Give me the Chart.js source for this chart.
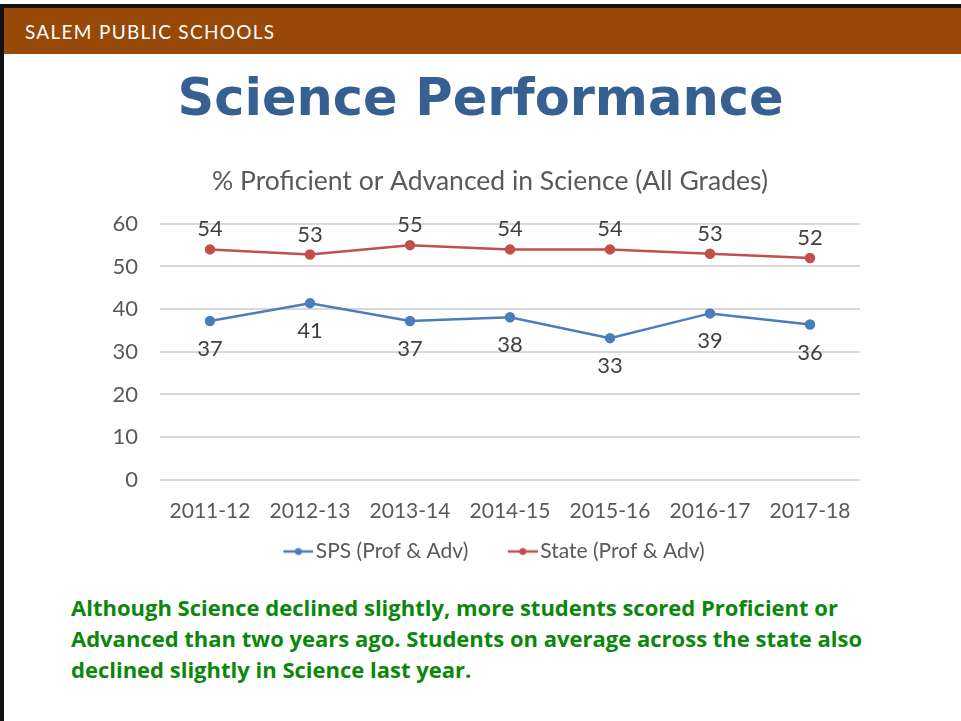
<!DOCTYPE html>
<html>
<head>
<meta charset="utf-8">
<script src="https://cdn.jsdelivr.net/npm/chart.js@4.4.0/dist/chart.umd.min.js"></script>
<style>
    body { margin: 0; background: #fff; width: 961px; height: 721px; overflow: hidden; position: relative; }
    .borde-izq { position: absolute; left: 0; top: 4px; width: 4px; height: 717px; background: #111; }
    .borde-sup { position: absolute; left: 0; top: 4px; width: 961px; height: 4px; background: #111; }
    .cabecera { position: absolute; left: 4px; top: 8px; width: 957px; height: 46px; background: #984807; }
    .cabecera span { position: absolute; left: 21px; top: 12px; color: #fff; font-family: Lato, sans-serif; font-size: 19px; letter-spacing: 1.3px; }
    h1 { position: absolute; left: 0; width: 961px; top: 68px; margin: 0; text-align: center; font-family: "DejaVu Sans", sans-serif; font-weight: bold; font-size: 51px; color: #376092; }
    #contenedor { position: absolute; left: 100px; top: 158px; width: 780px; height: 414px; }
    .nota { position: absolute; left: 71px; top: 592px; width: 880px; margin: 0; font-family: "Open Sans", sans-serif; font-weight: bold; font-size: 22px; line-height: 31px; color: #0b870b; }
</style>
</head>
<body>
<div class="borde-izq"></div>
<div class="borde-sup"></div>
<div class="cabecera"><span>SALEM PUBLIC SCHOOLS</span></div>
<h1>Science Performance</h1>
<div id="contenedor"><canvas id="grafico"></canvas></div>
<p class="nota">Although Science declined slightly, more students scored Proficient or<br>Advanced than two years ago. Students on average across the state also<br>declined slightly in Science last year.</p>

<script>
const anios = ['2011-12', '2012-13', '2013-14', '2014-15', '2015-16', '2016-17', '2017-18'];
const valoresSPS = [37.2, 41.4, 37.2, 38.1, 33.2, 39.0, 36.4];
const valoresEstado = [54, 52.8, 55, 54, 54, 53, 52];
const etiquetasSPS = [37, 41, 37, 38, 33, 39, 36];
const etiquetasEstado = [54, 53, 55, 54, 54, 53, 52];
const marcasY = [0, 10, 20, 30, 40, 50, 60];

const azul = '#4a7ebb';
const rojo = '#c0504d';
const gris = '#595959';

// icono de leyenda estilo Excel: linea con punto (desplazado a la derecha para pegarlo al texto)
function iconoLeyenda(color) {
    const c = document.createElement('canvas');
    c.width = 46;
    c.height = 10;
    const ctx = c.getContext('2d');
    ctx.strokeStyle = color;
    ctx.lineWidth = 2.5;
    ctx.beginPath();
    ctx.moveTo(16, 5);
    ctx.lineTo(46, 5);
    ctx.stroke();
    ctx.fillStyle = color;
    ctx.beginPath();
    ctx.arc(31, 5, 3.5, 0, Math.PI * 2);
    ctx.fill();
    return c;
}

// etiquetas de datos: estado arriba, SPS abajo
const etiquetasDatos = {
    id: 'etiquetasDatos',
    afterDatasetsDraw(chart) {
        const ctx = chart.ctx;
        ctx.save();
        ctx.font = '22px Lato, sans-serif';
        ctx.fillStyle = '#404040';
        ctx.textAlign = 'center';
        ctx.textBaseline = 'middle';
        chart.data.datasets.forEach((ds, i) => {
            const meta = chart.getDatasetMeta(i);
            const textos = i === 0 ? etiquetasSPS : etiquetasEstado;
            meta.data.forEach((p, j) => {
                const dy = i === 0 ? 28 : -20;
                ctx.fillText(String(textos[j]), p.x, p.y + dy);
            });
        });
        ctx.restore();
    }
};

const ctx = document.getElementById('grafico').getContext('2d');
new Chart(ctx, {
    type: 'line',
    data: {
        labels: anios,
        datasets: [{
            label: 'SPS (Prof & Adv)',
            data: valoresSPS,
            borderColor: azul,
            backgroundColor: azul,
            borderWidth: 2.5,
            pointRadius: 4,
            pointStyle: 'circle',
            tension: 0
        }, {
            label: 'State (Prof & Adv)',
            data: valoresEstado,
            borderColor: rojo,
            backgroundColor: rojo,
            borderWidth: 2.5,
            pointRadius: 4,
            pointStyle: 'circle',
            tension: 0
        }]
    },
    options: {
        responsive: true,
        maintainAspectRatio: false,
        animation: false,
        layout: { padding: 0 },
        scales: {
            x: {
                offset: true,
                afterFit(axis) { axis.height -= 4; },
                grid: { display: false },
                border: { display: false },
                ticks: { color: gris, font: { family: 'Lato, sans-serif', size: 21 }, padding: 11, maxRotation: 0 }
            },
            y: {
                min: 0,
                max: 60,
                afterBuildTicks(axis) {
                    axis.ticks = marcasY.map(v => ({ value: v }));
                },
                afterFit(axis) { axis.width = 60; },
                grid: { color: '#d9d9d9', lineWidth: 2, drawTicks: false },
                border: { display: false },
                ticks: { color: gris, font: { family: 'Lato, sans-serif', size: 22 }, padding: 22 }
            },
            // eje vacio a la derecha, solo para centrar titulo y leyenda como en el original
            yDer: {
                position: 'right',
                min: 0,
                max: 60,
                afterFit(axis) { axis.width = 20; },
                grid: { display: false },
                border: { display: false },
                ticks: { display: false }
            }
        },
        plugins: {
            title: {
                display: true,
                text: '% Proficient or Advanced in Science (All Grades)',
                color: gris,
                font: { family: 'Lato, sans-serif', size: 26.5, weight: 'normal' },
                padding: { top: 8, bottom: 26 }
            },
            legend: {
                position: 'bottom',
                labels: {
                    usePointStyle: true,
                    pointStyleWidth: 30,
                    color: gris,
                    font: { family: 'Lato, sans-serif', size: 21 },
                    padding: 10,
                    generateLabels(chart) {
                        return chart.data.datasets.map((ds, i) => ({
                            text: i === 0 ? ds.label + '    ' : ds.label,
                            fontColor: gris,
                            pointStyle: iconoLeyenda(ds.borderColor),
                            datasetIndex: i,
                            lineWidth: 0,
                            hidden: false
                        }));
                    }
                }
            },
            tooltip: { enabled: false }
        }
    },
    plugins: [etiquetasDatos]
});
</script>
</body>
</html>
